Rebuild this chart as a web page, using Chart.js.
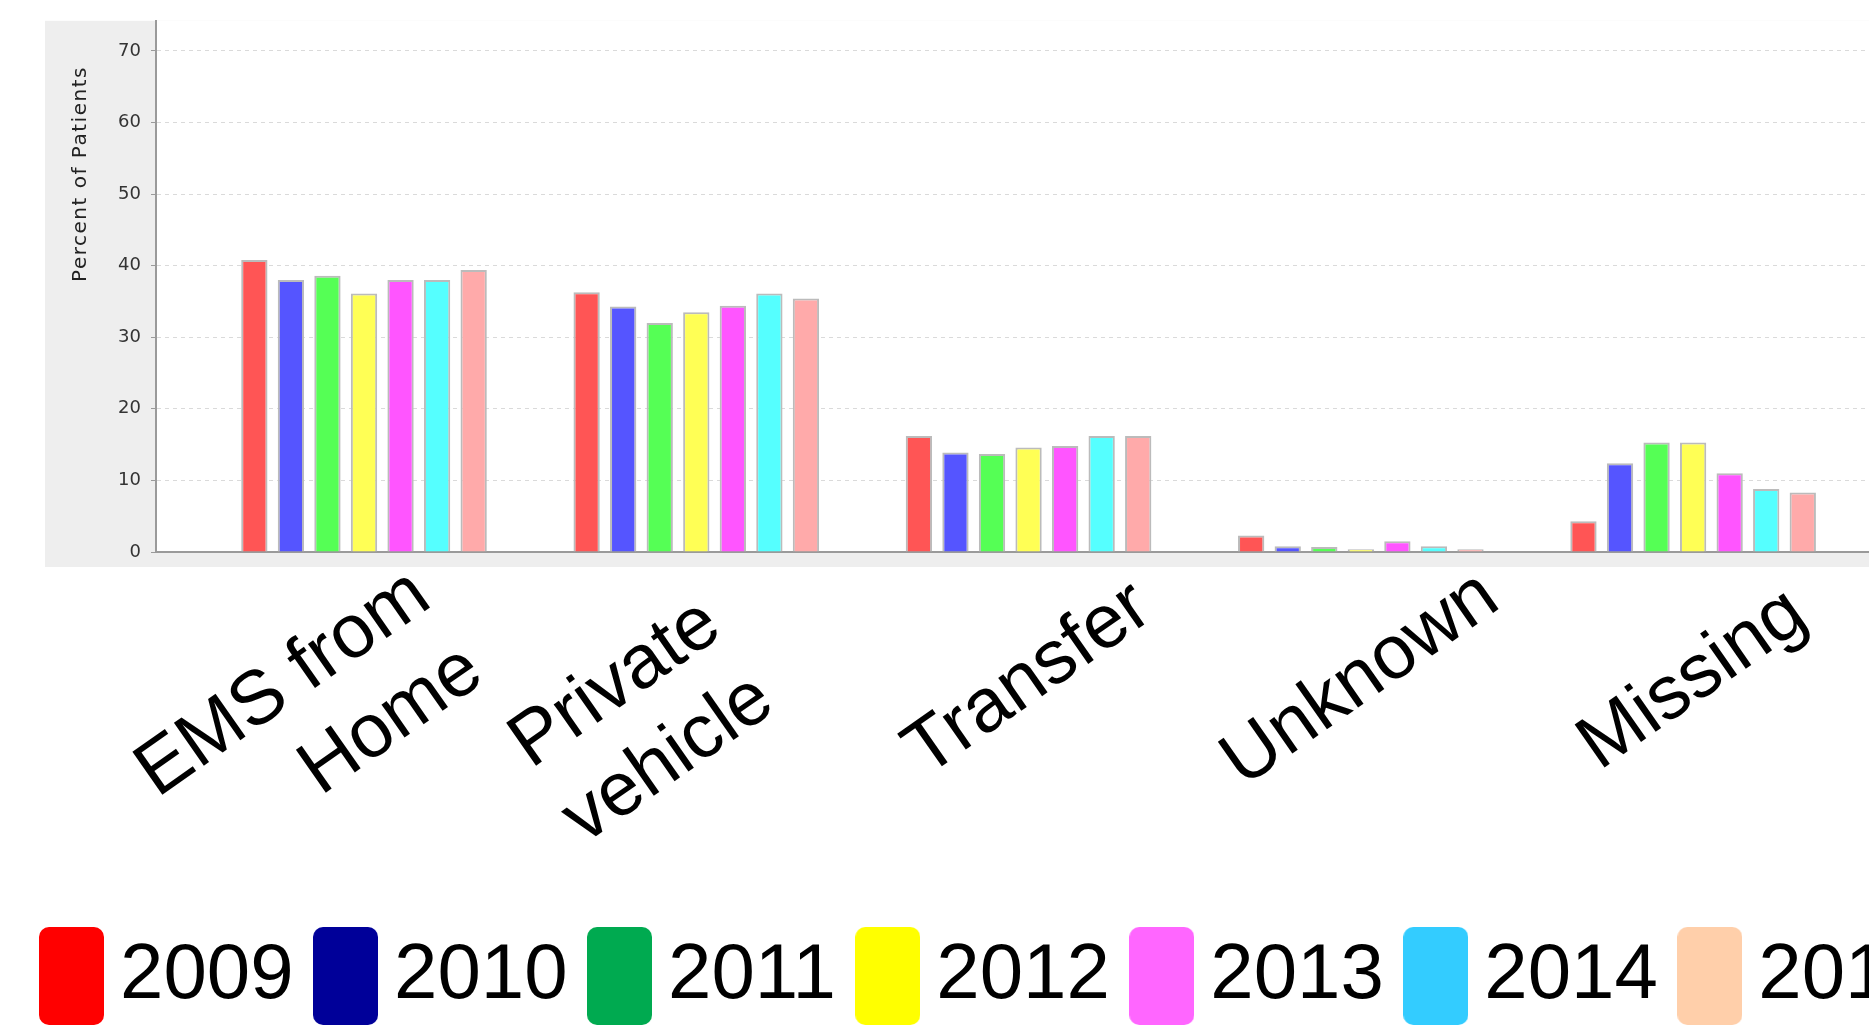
<!DOCTYPE html>
<html>
<head>
<meta charset="utf-8">
<script src="https://cdn.jsdelivr.net/npm/chart.js@4.4.1/dist/chart.umd.min.js"></script>
<style>
  html, body { margin: 0; padding: 0; overflow: hidden; background: #fff; }
  #wrap { position: absolute; left: 0; top: 0; width: 2150px; height: 1026px; }
</style>
</head>
<body>
<div id="wrap"><canvas id="chart" width="2150" height="1026"></canvas></div>
<script>
var categories = [["EMS from", "Home"], ["Private", "vehicle"], "Transfer", "Unknown", "Missing"];
var years = ["2009", "2010", "2011", "2012", "2013", "2014", "2015"];

// percent of patients, one array per year, in category order
var v2009 = [40.8, 36.3, 16.2, 2.3, 4.3];
var v2010 = [38.0, 34.3, 13.9, 0.8, 12.4];
var v2011 = [38.6, 32.0, 13.7, 0.7, 15.3];
var v2012 = [36.1, 33.5, 14.6, 0.4, 15.3];
var v2013 = [38.0, 34.4, 14.8, 1.5, 11.0];
var v2014 = [38.0, 36.1, 16.2, 0.8, 8.8];
var v2015 = [39.4, 35.4, 16.2, 0.4, 8.3];
var seriesValues = [v2009, v2010, v2011, v2012, v2013, v2014, v2015];

var yTicks = [0, 10, 20, 30, 40, 50, 60, 70];

var barColors = ["#ff5555", "#5555ff", "#55ff55", "#ffff55", "#ff55ff", "#55ffff", "#ffaaaa"];
var legendColors = ["#ff0000", "#000099", "#00aa50", "#ffff00", "#ff66ff", "#33ccff", "#ffcfaa"];

var labelFont = '"Liberation Sans", Arial, Helvetica, sans-serif';

// rounded swatches used as legend point styles
function makeSwatch(color) {
  var c = document.createElement("canvas");
  c.width = 65;
  c.height = 98;
  var g = c.getContext("2d");
  g.fillStyle = color;
  g.beginPath();
  g.roundRect(0, 0, 65, 98, 10);
  g.fill();
  return c;
}
var swatches = legendColors.map(makeSwatch);

var panelPlugin = {
  id: "panel",
  beforeDraw: function (chart) {
    var ctx = chart.ctx, a = chart.chartArea;
    ctx.save();
    ctx.fillStyle = "#ffffff";
    ctx.fillRect(0, 0, chart.width, chart.height);
    ctx.fillStyle = "#eeeeee";
    ctx.fillRect(45, a.top, chart.width - 45, a.bottom - a.top + 15);
    ctx.fillStyle = "#ffffff";
    ctx.fillRect(a.left, a.top, a.right - a.left, a.bottom - a.top);
    ctx.restore();
  },
  afterDraw: function (chart) {
    var ctx = chart.ctx, x = chart.scales.x;
    ctx.save();
    // y axis title
    ctx.translate(81, 174);
    ctx.rotate(-Math.PI / 2);
    ctx.font = '20px "DejaVu Sans", sans-serif';
    ctx.letterSpacing = "1.5px";
    ctx.fillStyle = "#222";
    ctx.textAlign = "center";
    ctx.textBaseline = "middle";
    ctx.fillText("Percent of Patients", 0, 0);
    ctx.restore();

    // big rotated category labels
    ctx.save();
    ctx.font = "76px " + labelFont;
    ctx.fillStyle = "#000";
    ctx.textAlign = "right";
    ctx.textBaseline = "middle";
    categories.forEach(function (lab, i) {
      var lines = [].concat(lab);
      var extra = lines.length - 1;
      var w = Math.max.apply(null, lines.map(function (l) { return ctx.measureText(l).width; }));
      ctx.save();
      ctx.translate(x.getPixelForValue(i) - extra * 54, 680 + extra * 42);
      ctx.rotate(-35 * Math.PI / 180);
      lines.forEach(function (l, j) {
        ctx.fillText(l, w / 2, (j - extra / 2) * 92);
      });
      ctx.restore();
    });
    ctx.restore();
  }
};

var datasets = years.map(function (y, i) {
  return {
    label: y,
    data: seriesValues[i].map(function (v, k) { return { x: k, y: v }; }),
    backgroundColor: barColors[i],
    borderColor: "#bbbbbb",
    borderWidth: 2,
    categoryPercentage: 0.77,
    barPercentage: 0.72
  };
});

var myChart = new Chart(document.getElementById("chart"), {
  type: "bar",
  data: { datasets: datasets },
  plugins: [panelPlugin],
  options: {
    responsive: false,
    animation: false,
    layout: { padding: { left: 19.5, top: 18, right: 0, bottom: 1 } },
    plugins: {
      tooltip: { enabled: false },
      legend: {
        position: "bottom",
        align: "start",
        labels: {
          usePointStyle: true,
          pointStyleWidth: 19,
          padding: 42.5,
          color: "#000",
          font: { size: 78, family: labelFont },
          generateLabels: function () {
            return years.map(function (y, i) {
              return {
                text: y,
                pointStyle: swatches[i],
                fillStyle: legendColors[i],
                strokeStyle: legendColors[i],
                lineWidth: 0,
                hidden: false,
                datasetIndex: i
              };
            });
          }
        }
      }
    },
    scales: {
      x: {
        type: "linear",
        offset: false,
        min: -0.626,
        max: 5.375,
        afterFit: function (s) { s.height = 342.5; },
        ticks: { display: false, stepSize: 1 },
        grid: { display: false, drawTicks: false, offset: false },
        border: { color: "#9a9a9a", width: 2 }
      },
      y: {
        min: 0,
        max: 74.2,
        afterFit: function (s) { s.width = 136.5; },
        afterBuildTicks: function (s) {
          s.ticks = yTicks.map(function (v) { return { value: v }; });
        },
        ticks: {
          padding: 10,
          color: "#333",
          font: { size: 18, family: '"DejaVu Sans", sans-serif' }
        },
        grid: { color: "#dadada", tickColor: "#9a9a9a", tickLength: 5, tickBorderDash: [] },
        border: { color: "#9a9a9a", width: 2, dash: [4, 4] }
      }
    }
  }
});
</script>
</body>
</html>
